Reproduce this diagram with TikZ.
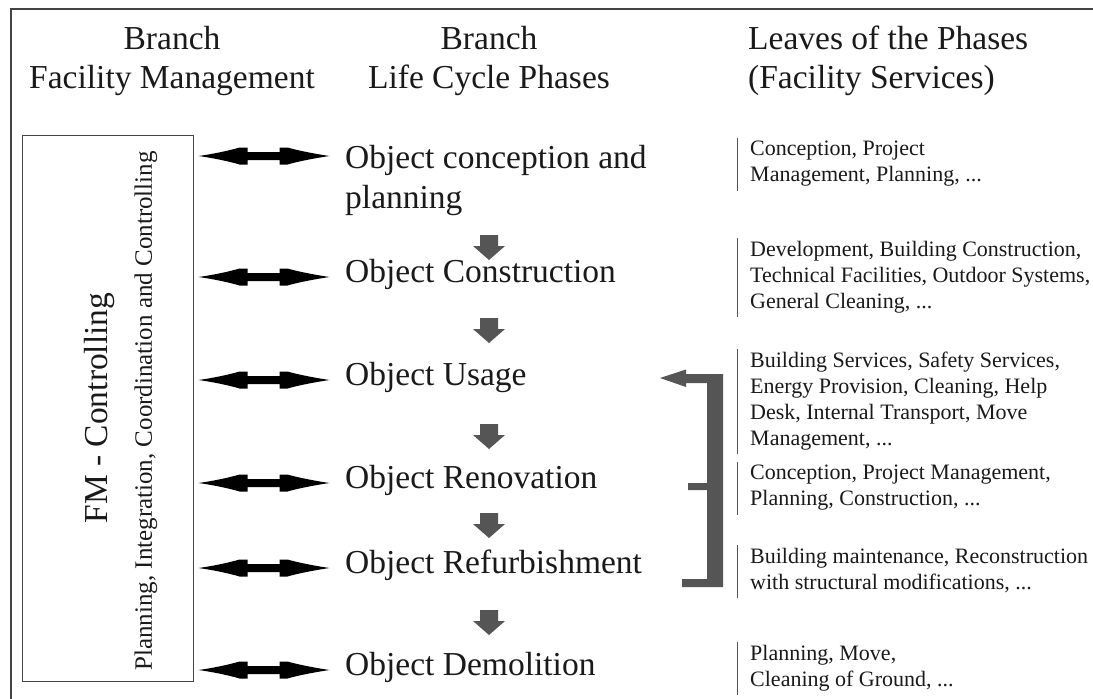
\documentclass[tikz,border=0pt]{standalone}
\usepackage{fontspec}
\setmainfont{Liberation Serif}
\definecolor{dgray}{HTML}{555555}
\definecolor{txt}{HTML}{1A1A1A}
\definecolor{frame}{HTML}{444444}
\begin{document}
\begin{tikzpicture}[x=1pt,y=-1pt,
  hdr/.style={font=\fontsize{33.5}{39}\selectfont, align=center, inner sep=0pt, text=txt},
  phase/.style={font=\fontsize{33.5}{40}\selectfont, anchor=west, align=left, inner sep=0pt, text=txt},
  leaf/.style={font=\fontsize{22}{26}\selectfont, anchor=west, align=left, inner sep=0pt, text=txt},
  leafbar/.style={draw=dgray, line width=1pt},
  dbl/.pic={\fill[black] (0,0) .. controls (15,-2) and (33,-6) .. (41,-8.5) -- (49,-8.5) -- (49,-4) -- (81,-4) -- (81,-8.5) -- (89,-8.5) .. controls (97,-6) and (117,-2) .. (131,0) .. controls (117,2) and (97,6) .. (89,8.5) -- (81,8.5) -- (81,4) -- (49,4) -- (49,8.5) -- (41,8.5) .. controls (33,6) and (15,2) .. (0,0) -- cycle;},
  down/.pic={\fill[dgray] (-9,0) -- (9,0) -- (9,11) -- (16,11) -- (0,25) -- (-16,11) -- (-9,11) -- cycle;}
]
\useasboundingbox (0,0) rectangle (1093,699);
\fill[white] (0,0) rectangle (1093,699);
% outer frame
\draw[frame, line width=1.2pt] (11,699) -- (11,9) -- (1093,9);

% headers
\node[hdr] (h1) at (172,61) {Branch\\Facility Management};
\node[hdr] (h2) at (489,61) {Branch\\Life Cycle Phases};
\node[hdr, anchor=west, align=left] (h3) at (748,61) {Leaves of the Phases\\(Facility Services)};

% FM box
\node[draw=frame, line width=1pt, minimum width=171pt, minimum height=546pt, inner sep=0pt] (fm) at (107.5,408) {};
\node[rotate=90, font=\fontsize{33.5}{40}\selectfont, inner sep=0pt, text=txt] (fmt) at (99,408) {FM - Controlling};
\node[rotate=90, font=\fontsize{25}{30}\selectfont, inner sep=0pt, text=txt] (fms) at (146,411) {Planning, Integration, Coordination and Controlling};

% phases
\node[phase] (p1) at (345,180) {Object conception and\\planning};
\coordinate (a1) at (345,156);
\node[phase] (p2) at (345,274) {Object Construction};
\node[phase] (p3) at (345,377) {Object Usage};
\node[phase] (p4) at (345,480) {Object Renovation};
\node[phase] (p5) at (345,565) {Object Refurbishment};
\node[phase] (p6) at (345,667) {Object Demolition};

% double arrows
\pic at ([xshift=5pt]fm.east |- a1) {dbl};
\foreach \p in {p2,p3,p4,p5,p6}{
  \pic at ([xshift=5pt,yshift=-3pt]fm.east |- \p.west) {dbl};
}

% down arrows
\foreach \yy in {235,318,424,513,610}{
  \pic at (489,\yy) {down};
}

% leaves
\node[leaf] (l1) at (750,164) {Conception, Project\\Management, Planning, ...};
\node[leaf] (l2) at (750,277) {Development, Building Construction,\\Technical Facilities, Outdoor Systems,\\General Cleaning, ...};
\node[leaf] (l3) at (750,401) {Building Services, Safety Services,\\Energy Provision, Cleaning, Help\\Desk, Internal Transport, Move\\Management, ...};
\node[leaf] (l4) at (750,488) {Conception, Project Management,\\Planning, Construction, ...};
\node[leaf] (l5) at (750,571) {Building maintenance, Reconstruction\\with structural modifications, ...};
\node[leaf] (l6) at (750,668) {Planning, Move,\\Cleaning of Ground, ...};
\foreach \l in {l1,l2,l3,l4,l5,l6}{
  \draw[leafbar] ([xshift=-13pt,yshift=3pt]\l.north west) -- ([xshift=-13pt,yshift=-4pt]\l.south west);
}

% bracket feeding back to Object Usage
\fill[dgray] (660,378) -- (686,369.5) -- (686,374) -- (723,374) -- (723,587) -- (682,587) -- (682,579) -- (707,579) -- (707,490) -- (688,490) -- (688,483) -- (707,483) -- (707,383) -- (686,383) -- (686,387) -- cycle;
\end{tikzpicture}
\end{document}
